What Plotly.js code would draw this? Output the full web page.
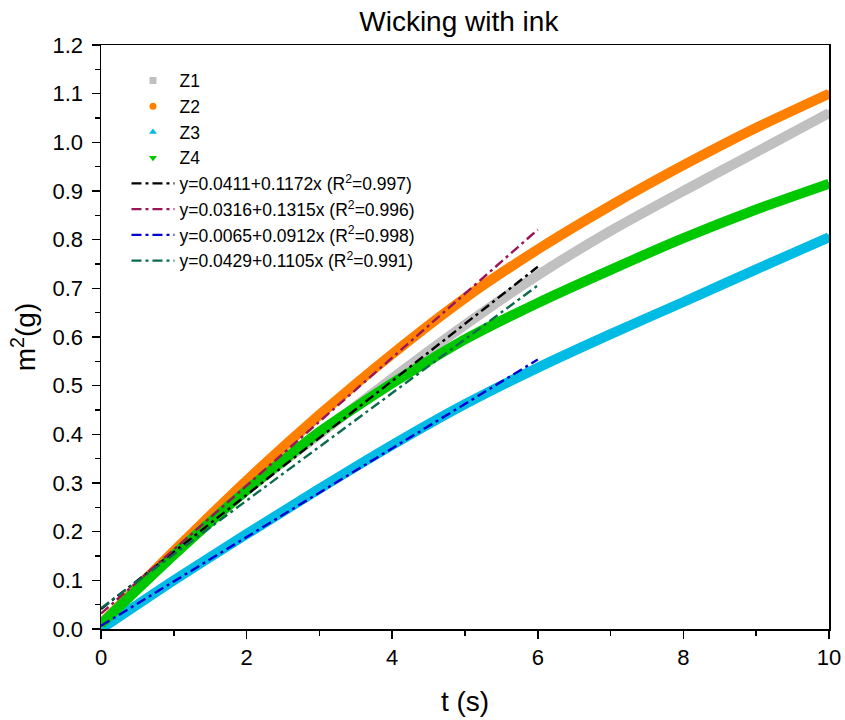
<!DOCTYPE html>
<html>
<head>
<meta charset="utf-8">
<script src="https://cdn.plot.ly/plotly-3.0.1.min.js"></script>
<style>html,body{margin:0;padding:0;background:#fff;}#chart{width:845px;height:720px;}</style>
</head>
<body>
<div id="chart"></div>
<script>
// time (s)
const tData = [0, 1, 2, 3, 4, 5, 6, 7, 8, 9, 10];
// m^2 (g)
const z1 = [0.01, 0.155, 0.285, 0.40, 0.515, 0.625, 0.727, 0.818, 0.90, 0.98, 1.06];
const z2 = [0.01, 0.16, 0.305, 0.44, 0.565, 0.68, 0.78, 0.87, 0.953, 1.03, 1.10];
const z3 = [0.0, 0.10, 0.195, 0.288, 0.378, 0.462, 0.537, 0.606, 0.672, 0.739, 0.805];
const z4 = [0.01, 0.152, 0.285, 0.405, 0.505, 0.595, 0.67, 0.738, 0.803, 0.862, 0.915];
const seriesNames = ['Z1', 'Z2', 'Z3', 'Z4'];

// linear fits, drawn from t = 0 to t = 6
const fitX = [0, 6];
const fit1 = [0.0411, 0.7443];
const fit2 = [0.0316, 0.8206];
const fit3 = [0.0065, 0.5537];
const fit4 = [0.0429, 0.7059];
const fitNames = [
  'y=0.0411+0.1172x (R<sup>2</sup>=0.997)',
  'y=0.0316+0.1315x (R<sup>2</sup>=0.996)',
  'y=0.0065+0.0912x (R<sup>2</sup>=0.998)',
  'y=0.0429+0.1105x (R<sup>2</sup>=0.991)'
];

const dataColors = ['#c0c0c0', '#ff8000', '#00bbe4', '#00c800'];
const symbols = ['square', 'circle', 'triangle-up', 'triangle-down'];
const fitColors = ['#000000', '#9a1458', '#0000d0', '#0c6b4c'];

const series = [z1, z2, z3, z4];
const fits = [fit1, fit2, fit3, fit4];
const traces = [];
series.forEach((s, i) => {
  traces.push({
    x: tData, y: s, mode: 'lines', showlegend: false, hoverinfo: 'skip',
    line: {color: dataColors[i], width: 10, shape: 'spline', smoothing: 0.6}
  });
  traces.push({
    x: tData, y: s, mode: 'markers', name: seriesNames[i],
    marker: {color: dataColors[i], symbol: symbols[i], size: 7}
  });
});
fits.forEach((f, i) => {
  traces.push({
    x: fitX, y: f, mode: 'lines', name: fitNames[i],
    line: {color: fitColors[i], width: 2.4, dash: '10px,4px,3px,4px'}
  });
});

const fam = 'Liberation Sans, Arial, sans-serif';
const axisFont = {family: fam, size: 22, color: '#000'};
const layout = {
  width: 845, height: 720,
  margin: {l: 101, r: 16, t: 45, b: 91},
  paper_bgcolor: '#fff', plot_bgcolor: '#fff',
  font: {family: fam, color: '#000'},
  title: {text: 'Wicking with ink', font: {family: fam, size: 28, color: '#000'}, x: 0.543, xanchor: 'center', y: 0.97, yanchor: 'middle'},
  xaxis: {
    range: [0, 10], dtick: 2, tick0: 0,
    showline: true, linecolor: '#000', linewidth: 1.5, mirror: true,
    ticks: 'outside', ticklen: 8, tickwidth: 1.5, tickcolor: '#000',
    minor: {dtick: 1, ticks: 'outside', ticklen: 5, tickwidth: 1.5, tickcolor: '#000', showgrid: false},
    showgrid: false, zeroline: false,
    tickfont: axisFont,
    title: {text: 't (s)', font: {family: fam, size: 28, color: '#000'}, standoff: 22}
  },
  yaxis: {
    range: [0, 1.2], dtick: 0.1, tick0: 0, tickformat: '.1f',
    showline: true, linecolor: '#000', linewidth: 1.5, mirror: true,
    ticks: 'outside', ticklen: 8, tickwidth: 1.5, tickcolor: '#000',
    ticklabelstandoff: 4,
    minor: {dtick: 0.05, ticks: 'outside', ticklen: 5, tickwidth: 1.5, tickcolor: '#000', showgrid: false},
    showgrid: false, zeroline: false,
    tickfont: axisFont,
    title: {text: 'm<sup>2</sup>(g)', font: {family: fam, size: 28, color: '#000'}, standoff: 8}
  },
  legend: {
    x: 0.035, y: 0.97, xanchor: 'left', yanchor: 'top',
    bgcolor: 'rgba(0,0,0,0)', borderwidth: 0,
    font: {family: fam, size: 17.5, color: '#000'}, itemwidth: 43, tracegroupgap: 0
  }
};

Plotly.newPlot('chart', traces, layout, {displayModeBar: false, staticPlot: true});
</script>
</body>
</html>
